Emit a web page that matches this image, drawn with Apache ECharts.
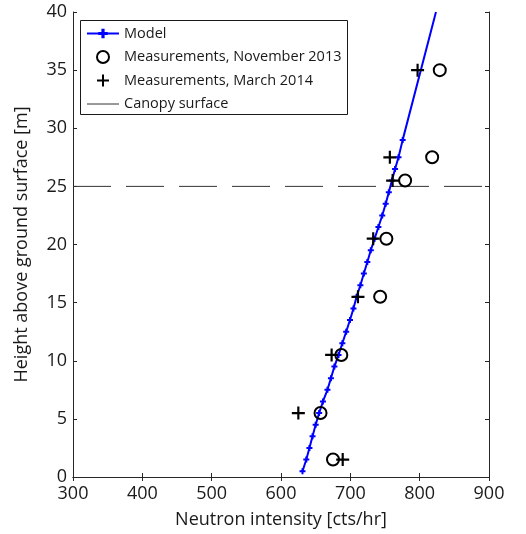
<!DOCTYPE html>
<html>
<head>
<meta charset="utf-8">
<script src="https://cdn.jsdelivr.net/npm/echarts@6/dist/echarts.min.js"></script>
<style>
  html, body { margin: 0; padding: 0; background: #fff; }
  #chart { width: 526px; height: 534px; }
</style>
</head>
<body>
<div id="chart"></div>
<script>
// Model profile: neutron intensity against height
const modelHeight = [0.5, 1.5, 2.5, 3.5, 4.5, 5.5, 6.5, 7.5, 8.5, 9.5, 10.5, 11.5, 12.5, 13.5, 14.5,
  15.5, 16.5, 17.5, 18.5, 19.5, 20.5, 21.5, 22.5, 23.5, 24.5, 25.5, 26.5, 27.5, 29, 40];
const modelIntensity = [631, 636.5, 641, 645.5, 650, 655, 660.5, 667, 672, 677, 683, 688.5, 694, 699.5, 704.5,
  709, 714.5, 719.5, 724.5, 729.5, 735, 740.5, 746, 751, 755.5, 760, 764.5, 769.5, 775.5, 823.5];

// Measurements, November 2013
const novHeight = [1.5, 5.5, 10.5, 15.5, 20.5, 25.5, 27.5, 35];
const novIntensity = [675, 657, 687, 743, 752, 779, 818, 829];

// Measurements, March 2014
const marHeight = [1.5, 5.5, 10.5, 15.5, 20.5, 25.5, 27.5, 35];
const marIntensity = [689, 625, 673, 711, 733, 761, 757, 797];

// Canopy surface height
const canopyHeight = 25;
const xRange = [300, 900];
const yRange = [0, 40];

const FONT = 'Open Sans';
const plusPath = 'path://M5,0H7V5H12V7H7V12H5V7H0V5H5Z';
const smallPlus = 'path://M4,0H8V4H12V8H8V12H4V8H0V4H4Z';

const pairs = (xs, ys) => xs.map((x, i) => [x, ys[i]]);

const chart = echarts.init(document.getElementById('chart'), null, { renderer: 'canvas' });

const axisLine = { show: true, lineStyle: { color: '#262626', width: 1 } };
const tickIn = { show: true, inside: true, length: 4, lineStyle: { color: '#262626' } };

// the top end of the model line runs off the plot without a marker
const modelData = pairs(modelIntensity, modelHeight).map((p, i, arr) =>
  i === arr.length - 1 ? { value: p, symbol: 'none' } : p);

chart.setOption({
  animation: false,
  backgroundColor: '#fff',
  textStyle: { fontFamily: FONT },
  grid: { left: 73, right: 37, top: 12, bottom: 56, containLabel: false },
  xAxis: [{
    type: 'value', min: xRange[0], max: xRange[1], interval: 100,
    name: 'Neutron intensity [cts/hr]', nameLocation: 'middle', nameGap: 34,
    nameTextStyle: { fontFamily: FONT, fontSize: 18, color: '#1a1a1a' },
    axisLine, axisTick: tickIn, splitLine: { show: false },
    axisLabel: { fontFamily: FONT, fontSize: 18, color: '#1a1a1a', margin: 8 }
  }, {
    type: 'value', position: 'top', min: xRange[0], max: xRange[1], interval: 100,
    axisLine, axisTick: tickIn, splitLine: { show: false }, axisLabel: { show: false }
  }],
  yAxis: [{
    type: 'value', min: yRange[0], max: yRange[1], interval: 5,
    name: 'Height above ground surface [m]', nameLocation: 'middle', nameGap: 42,
    nameTextStyle: { fontFamily: FONT, fontSize: 18, color: '#1a1a1a' },
    axisLine, axisTick: tickIn, splitLine: { show: false },
    axisLabel: { fontFamily: FONT, fontSize: 18, color: '#1a1a1a', margin: 6 }
  }, {
    type: 'value', position: 'right', min: yRange[0], max: yRange[1], interval: 5,
    axisLine, axisTick: tickIn, splitLine: { show: false }, axisLabel: { show: false }
  }],
  graphic: [{
    type: 'rect', left: 80, top: 20, z: 100,
    shape: { width: 267, height: 94 },
    style: { fill: '#fff', stroke: '#1a1a1a', lineWidth: 1 }
  }],
  legend: {
    orient: 'vertical', left: 82, top: 26, z: 101, padding: [0, 0, 0, 4],
    itemWidth: 32, itemHeight: 12, itemGap: 8.5,
    textStyle: { fontFamily: FONT, fontSize: 14.5, color: '#1a1a1a', padding: [0, 0, 0, 0] },
    data: [
      { name: 'Model' },
      { name: 'Measurements, November 2013' },
      { name: 'Measurements, March 2014' },
      { name: 'Canopy surface', itemStyle: { opacity: 0 }, lineStyle: { type: 'solid', width: 1, color: '#333' } }
    ]
  },
  series: [{
    name: 'Model', type: 'line', data: modelData,
    symbol: smallPlus, symbolSize: 6, showSymbol: true,
    lineStyle: { color: '#0000ff', width: 2 },
    itemStyle: { color: '#0000ff' }, z: 3
  }, {
    name: 'Measurements, November 2013', type: 'scatter',
    data: pairs(novIntensity, novHeight),
    symbol: 'circle', symbolSize: 12,
    itemStyle: { color: 'rgba(255,255,255,0)', borderColor: '#000', borderWidth: 2, opacity: 1 }, z: 4
  }, {
    name: 'Measurements, March 2014', type: 'scatter',
    data: pairs(marIntensity, marHeight),
    symbol: plusPath, symbolSize: 13,
    itemStyle: { color: '#000', opacity: 1 }, z: 5
  }, {
    name: 'Canopy surface', type: 'line',
    data: [[xRange[0], canopyHeight], [xRange[1], canopyHeight]],
    symbol: 'none',
    lineStyle: { color: '#333', width: 1, type: [38, 15] },
    itemStyle: { color: '#333' }, z: 2
  }]
});
</script>
</body>
</html>
